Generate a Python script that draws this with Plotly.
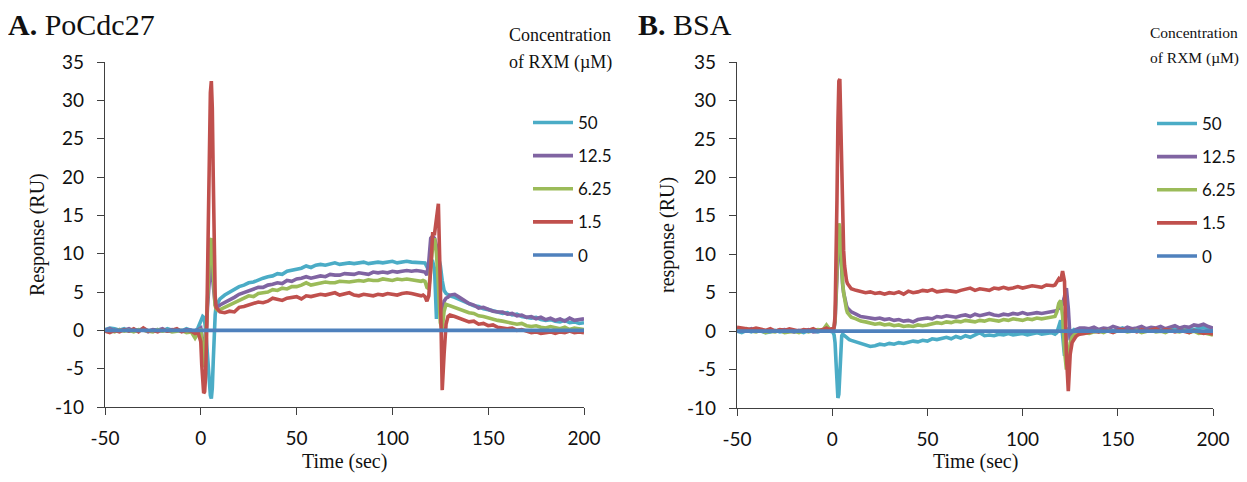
import plotly.graph_objects as go

# ---------------- data ----------------
TIME = [-50, -47.5, -45, -42.5, -40, -37.5, -35, -32.5, -30, -27.5, -25, -22.5, -20, -17.5, -15, -12.5, -10, -7.5, -5,
        -3, -1.5, 0, 0.5, 1, 1.5, 2, 2.5, 3, 3.5, 4, 4.5, 5, 5.5, 6, 6.5, 7, 7.5, 8, 9, 10,
        12.5, 15, 17.5, 20, 22.5, 25, 27.5, 30, 32.5, 35, 37.5, 40, 42.5, 45, 47.5, 50, 52.5, 55, 57.5, 60,
        62.5, 65, 67.5, 70, 72.5, 75, 77.5, 80, 82.5, 85, 87.5, 90, 92.5, 95, 97.5, 100, 102.5, 105, 107.5, 110,
        112.5, 115,
        116, 117, 118, 119, 120, 121, 122, 123, 124, 125, 126, 127, 128, 129, 130,
        132.5, 135, 137.5, 140, 142.5, 145, 147.5, 150, 152.5, 155, 157.5, 160, 162.5, 165, 167.5, 170,
        172.5, 175, 177.5, 180, 182.5, 185, 187.5, 190, 192.5, 195, 197.5, 200]

ZERO_TIME = [-50, 200]
ZERO_VALUES = [0, 0]

SERIES_NAMES = ["50", "12.5", "6.25", "1.5", "0"]
SERIES_COLORS = ["#4BACC6", "#8064A2", "#9BBB59", "#C0504D", "#4F81BD"]

# Panel A: PoCdc27
A_50 = [0.1, 0.3, 0.2, 0.0, 0.2, -0.1, 0.1, 0.0, 0.2, -0.1, 0.0, 0.1, -0.1, 0.2, 0.0, 0.1, -0.1, 0.2, 0.0,
        -0.2, 0.3, 1.3, 1.7, 1.8, 1.7, 1.2, 0.2, -1.5, -3.5, -5.8, -7.5, -8.5, -8.9, -7.5, -4.0, -0.5, 2.0, 3.2, 3.8, 4.1,
        4.6, 5.0, 5.3, 5.7, 5.9, 6.2, 6.3, 6.6, 6.8, 7.0, 7.1, 7.4, 7.3, 7.7, 7.8, 8.0, 8.1, 8.4, 8.2, 8.5,
        8.6, 8.5, 8.7, 8.8, 8.6, 8.7, 8.8, 8.7, 8.8, 8.9, 8.7, 8.8, 8.9, 8.8, 8.9, 9.0, 8.8, 8.9, 9.0, 8.9,
        8.9, 8.8,
        8.9, 8.8, 8.3, 8.5, 9.0, 9.0, 8.0, 1.5, 9.5, 8.5, 6.5, 5.2, 4.8, 4.6, 4.5,
        4.3, 4.0, 3.8, 3.4, 3.2, 3.1, 2.8, 2.7, 2.6, 2.4, 2.2, 2.3, 2.0, 2.1, 1.8, 1.7,
        1.6, 1.7, 1.4, 1.3, 1.4, 1.2, 1.1, 1.3, 1.0, 1.1, 0.9, 1.0]
A_12_5 = [0.0, 0.2, -0.1, 0.1, 0.0, 0.2, -0.1, 0.0, 0.1, -0.2, 0.1, 0.0, 0.2, -0.1, 0.1, 0.0, -0.1, 0.1, 0.0,
          -0.2, 0.1, 0.3, -0.5, -2.0, -3.0, -2.8, -1.5, 0.5, 3.0, 5.5, 7.5, 8.5, 8.5, 7.0, 5.0, 3.8, 3.3, 3.1, 3.1, 3.3,
          3.6, 4.0, 4.3, 4.7, 4.9, 5.2, 5.3, 5.6, 5.6, 5.9, 6.0, 6.2, 6.1, 6.5, 6.4, 6.7, 6.8, 7.0, 6.8, 7.0,
          7.1, 7.0, 7.3, 7.2, 7.2, 7.4, 7.3, 7.3, 7.5, 7.4, 7.3, 7.6, 7.5, 7.6, 7.5, 7.7, 7.6, 7.7, 7.8, 7.7,
          7.8, 7.7,
          7.7, 7.6, 7.2, 9.0, 12.0, 12.3, 12.0, 11.0, 9.5, 3.5, 1.5, 3.8, 4.2, 4.3, 4.6,
          4.7, 4.3, 3.9, 3.5, 3.3, 2.9, 3.0, 2.7, 2.5, 2.4, 2.4, 2.1, 2.2, 1.9, 2.0, 1.7,
          1.8, 1.5, 1.7, 1.4, 1.6, 1.3, 1.5, 1.2, 1.6, 1.3, 1.4, 1.5]
A_6_25 = [-0.1, 0.0, -0.2, 0.1, -0.1, 0.0, -0.2, 0.1, 0.0, -0.1, -0.2, 0.1, -0.1, 0.0, -0.2, -0.1, 0.0, -0.3, -0.2,
          -1.0, -0.3, 0.2, -1.0, -3.5, -4.8, -4.5, -2.5, 1.0, 4.0, 7.0, 10.0, 11.8, 12.0, 10.0, 7.0, 4.5, 3.2, 2.8, 2.6, 2.7,
          3.0, 3.3, 3.6, 3.9, 4.1, 4.5, 4.4, 4.8, 4.9, 5.0, 5.3, 5.2, 5.5, 5.4, 5.7, 5.7, 5.9, 6.2, 5.9, 6.0,
          6.1, 6.3, 6.2, 6.2, 6.4, 6.3, 6.3, 6.4, 6.5, 6.4, 6.6, 6.5, 6.5, 6.7, 6.6, 6.5, 6.7, 6.6, 6.7, 6.6,
          6.5, 6.4,
          6.5, 6.4, 5.6, 5.4, 8.0, 11.0, 12.0, 10.0, 6.0, 1.0, 0.2, 2.5, 3.4, 3.3, 3.2,
          3.0, 2.8, 2.5, 2.3, 2.2, 1.9, 1.8, 1.6, 1.5, 1.3, 1.2, 1.1, 1.0, 0.8, 0.9, 0.6,
          0.5, 0.6, 0.4, 0.3, 0.5, 0.3, 0.2, 0.4, 0.1, 0.3, 0.2, 0.1]
A_1_5 = [-0.1, -0.3, 0.0, -0.2, 0.1, -0.1, 0.2, -0.2, 0.3, -0.1, 0.0, -0.2, 0.1, -0.1, 0.0, 0.2, -0.2, 0.0, -0.1,
         -0.4, -0.2, -1.5, -4.5, -7.5, -8.2, -8.0, -6.0, -1.0, 7.0, 16.0, 25.0, 31.0, 32.5, 29.0, 20.0, 10.0, 4.5, 3.0, 2.6, 2.4,
         2.3, 2.5, 2.4, 3.0, 3.1, 3.3, 3.5, 3.7, 3.6, 3.8, 4.2, 4.0, 3.9, 4.2, 4.3, 4.4, 4.1, 4.5, 4.4, 4.6,
         4.7, 4.6, 4.8, 4.9, 4.6, 4.7, 4.9, 4.6, 4.5, 4.7, 4.6, 4.5, 4.7, 4.6, 4.8, 4.7, 4.6, 4.8, 4.9, 4.8,
         4.7, 4.5,
         4.6, 4.4, 3.8, 4.5, 8.0, 12.6, 12.6, 14.5, 16.5, 6.0, -7.8, -3.0, 0.8, 1.8, 2.0,
         1.8, 1.6, 1.4, 1.1, 1.2, 0.8, 0.9, 0.6, 0.7, 0.4, 0.3, 0.2, 0.3, 0.0, 0.1, -0.1,
         -0.3, -0.2, -0.4, -0.3, -0.2, -0.4, -0.2, -0.3, -0.1, -0.3, -0.2, -0.3]

# Panel B: BSA
B_50 = [0.0, -0.2, 0.1, -0.1, 0.2, 0.0, -0.2, -0.1, 0.1, -0.1, 0.0, 0.1, -0.1, 0.0, -0.2, 0.1, 0.0, -0.1, 0.1,
        0.1, 0.0, -0.1, -0.2, -0.5, -1.5, -4.0, -7.0, -8.7, -8.2, -5.0, -1.5, -0.6, -0.4, -0.5, -0.7, -0.8, -0.9, -1.0, -1.1, -1.2,
        -1.4, -1.6, -1.8, -2.0, -1.9, -1.7, -1.8, -1.6, -1.7, -1.5, -1.6, -1.5, -1.3, -1.4, -1.2, -1.3, -1.0, -1.1, -0.9, -0.8,
        -1.0, -0.7, -0.9, -0.6, -0.8, -0.5, -0.2, -0.6, -0.5, -0.6, -0.4, -0.5, -0.3, -0.5, -0.4, -0.3, -0.5, -0.4, -0.2, -0.4,
        -0.3, -0.2,
        -0.3, -0.4, -0.2, 0.5, 1.4, -0.5, -3.2, -1.0, 0.2, 0.1, 0.0, 0.2, 0.1, 0.0, 0.1,
        0.1, 0.0, 0.2, -0.1, 0.1, 0.3, 0.0, 0.2, 0.4, 0.1, 0.3, 0.2, 0.0, 0.2, 0.1, 0.3,
        0.1, 0.0, 0.2, 0.3, 0.1, 0.2, 0.4, 0.2, 0.3, 0.5, 0.3, 0.1]
B_12_5 = [0.3, 0.2, 0.1, 0.3, 0.0, 0.1, -0.1, 0.2, 0.0, 0.1, 0.2, 0.0, -0.1, 0.1, 0.0, 0.2, -0.1, 0.0, 0.1,
          0.2, 0.1, 0.0, 0.1, 0.4, 1.2, 3.5, 7.0, 10.5, 12.5, 12.0, 9.5, 7.5, 6.0, 5.0, 4.2, 3.7, 3.3, 3.0, 2.7, 2.5,
          2.2, 1.9, 1.8, 1.7, 1.6, 1.7, 1.5, 1.6, 1.4, 1.5, 1.3, 1.4, 1.2, 1.5, 1.6, 1.7, 1.6, 1.9, 1.8, 2.0,
          1.9, 1.8, 2.0, 2.1, 1.9, 2.2, 2.0, 2.1, 2.3, 2.1, 2.0, 2.2, 2.1, 2.3, 2.2, 2.4, 2.2, 2.3, 2.4, 2.3,
          2.4, 2.5,
          2.5, 2.6, 2.7, 3.0, 3.2, 3.5, 4.5, 5.6, 3.0, -1.2, -0.5, 0.0, 0.2, 0.3, 0.4,
          0.4, 0.3, 0.5, 0.2, 0.4, 0.3, 0.6, 0.4, 0.2, 0.5, 0.3, 0.4, 0.6, 0.3, 0.5, 0.4,
          0.6, 0.3, 0.5, 0.7, 0.4, 0.6, 0.5, 0.8, 0.7, 0.9, 0.6, 0.4]
B_6_25 = [0.2, 0.1, 0.3, 0.0, -0.1, 0.1, -0.2, 0.0, -0.1, 0.1, -0.2, -0.1, 0.0, -0.2, 0.1, -0.1, 0.0, 0.2, 0.1,
          0.8, 0.3, 0.1, 0.2, 0.5, 1.5, 4.0, 8.0, 12.0, 14.0, 13.5, 10.5, 8.0, 6.2, 5.0, 4.0, 3.3, 2.8, 2.4, 2.0, 1.8,
          1.6, 1.3, 1.2, 1.1, 0.9, 1.0, 0.8, 0.9, 0.7, 0.8, 0.6, 0.7, 0.6, 0.8, 0.7, 0.8, 0.9, 1.1, 1.0, 1.2,
          1.1, 1.3, 1.2, 1.4, 1.3, 1.2, 1.4, 1.3, 1.5, 1.4, 1.3, 1.5, 1.4, 1.6, 1.5, 1.4, 1.6, 1.5, 1.7, 1.6,
          1.7, 1.8,
          1.8, 1.9, 2.5, 3.6, 4.0, 2.0, -2.5, -5.0, -3.5, -1.5, -0.8, -0.5, -0.4, -0.3, -0.3,
          -0.2, -0.3, -0.1, 0.0, -0.2, 0.1, -0.1, 0.0, 0.1, -0.1, 0.0, 0.1, -0.2, 0.0, 0.1, -0.1,
          0.0, -0.2, 0.1, 0.0, -0.1, 0.1, -0.2, 0.0, -0.3, -0.2, -0.4, -0.5]
B_1_5 = [0.5, 0.4, 0.3, 0.2, 0.4, 0.2, 0.1, 0.3, 0.0, 0.2, 0.1, 0.3, 0.1, 0.0, 0.2, 0.1, 0.3, 0.0, 0.2,
         0.4, 0.2, 0.3, 0.2, 0.5, 2.0, 8.0, 17.0, 27.0, 32.5, 32.8, 27.0, 18.0, 13.0, 10.5, 8.5, 7.3, 6.6, 6.2, 5.8, 5.5,
         5.3, 5.1, 5.0, 5.1, 4.9, 5.0, 4.8, 5.0, 4.9, 5.1, 4.8, 5.2, 5.0, 5.1, 5.3, 5.2, 5.4, 5.1, 5.2, 5.3,
         5.2, 5.1, 5.3, 5.4, 5.6, 5.3, 5.5, 5.4, 5.3, 5.6, 5.5, 5.7, 5.5, 5.6, 5.8, 5.6, 5.7, 5.9, 5.8, 5.7,
         6.0, 5.9,
         5.9, 6.0, 6.4, 6.8, 6.5, 7.8, 6.5, -3.0, -7.8, -3.0, -1.5, -1.0, -0.7, -0.5, -0.4,
         -0.3, -0.2, 0.0, -0.1, 0.1, 0.0, -0.2, 0.1, 0.2, 0.0, 0.1, -0.1, 0.2, 0.0, 0.1, 0.3,
         0.0, 0.2, 0.1, -0.1, 0.1, 0.0, -0.2, 0.1, -0.1, -0.3, -0.2, -0.4]

X_TICKS = [-50, 0, 50, 100, 150, 200]
X_TICK_LABELS = ["-50", "0", "50", "100", "150", "200"]
Y_TICKS = [-10, -5, 0, 5, 10, 15, 20, 25, 30, 35]
Y_TICK_LABELS = ["-10", "-5", "0", "5", "10", "15", "20", "25", "30", "35"]

for nm, s in [("A_50", A_50), ("A_12_5", A_12_5), ("A_6_25", A_6_25), ("A_1_5", A_1_5),
              ("B_50", B_50), ("B_12_5", B_12_5), ("B_6_25", B_6_25), ("B_1_5", B_1_5)]:
    if len(s) != len(TIME):
        raise ValueError(f"{nm} has {len(s)} values, TIME has {len(TIME)}")

# ---------------- figure ----------------
PAGE_W, PAGE_H = 1247, 482
OFF = 8  # default page (body) margin in the browser
W, H = PAGE_W - 2 * OFF, PAGE_H - 2 * OFF  # keep the figure inside the window (no overflow)
SERIF = "Liberation Serif, Times New Roman, serif"
SANS = "Lato, Open Sans, sans-serif"
AX = "#404040"
LW = 3.6

def px(x):
    return (x - OFF) / W

def py(y):
    return 1 - (y - OFF) / H

fig = go.Figure()

panels = [
    ("x", "y", "legend", [A_50, A_12_5, A_6_25, A_1_5]),
    ("x2", "y2", "legend2", [B_50, B_12_5, B_6_25, B_1_5]),
]
for xa, ya, lg, series in panels:
    for i, vals in enumerate(series):
        fig.add_trace(go.Scatter(
            x=TIME, y=vals, mode="lines", name=SERIES_NAMES[i],
            line=dict(color=SERIES_COLORS[i], width=LW),
            xaxis=xa, yaxis=ya, legend=lg, legendgroup=lg + SERIES_NAMES[i],
        ))
    fig.add_trace(go.Scatter(
        x=ZERO_TIME, y=ZERO_VALUES, mode="lines", name=SERIES_NAMES[4],
        line=dict(color=SERIES_COLORS[4], width=LW),
        xaxis=xa, yaxis=ya, legend=lg, legendgroup=lg + SERIES_NAMES[4],
    ))

axis_common = dict(
    showline=True, linecolor=AX, linewidth=1.3, ticks="outside", ticklen=7,
    tickcolor=AX, tickwidth=1.3, showgrid=False, zeroline=False, automargin=False,
    tickfont=dict(family=SANS, size=19, color="#111"),
)
xaxis_common = dict(range=[-50, 200], tickvals=X_TICKS, ticktext=X_TICK_LABELS,
                    ticklabelstandoff=7, **axis_common)
yaxis_common = dict(range=[-10, 35], tickvals=Y_TICKS, ticktext=Y_TICK_LABELS,
                    ticklabelstandoff=9, **axis_common)

legend_common = dict(
    xanchor="left", yanchor="top", traceorder="grouped", tracegroupgap=8,
    itemwidth=40, font=dict(family=SANS, size=17, color="#111"),
    bgcolor="rgba(0,0,0,0)", borderwidth=0,
)

fig.update_layout(
    template="none",
    width=W, height=H,
    margin=dict(l=0, r=0, t=0, b=0, pad=0, autoexpand=False),
    paper_bgcolor="white", plot_bgcolor="white",
    xaxis=dict(domain=[px(105), px(584)], anchor="y", **xaxis_common),
    yaxis=dict(domain=[py(407), py(62)], anchor="x", **yaxis_common),
    xaxis2=dict(domain=[px(737), px(1213)], anchor="y2", **xaxis_common),
    yaxis2=dict(domain=[py(408), py(62)], anchor="x2", **yaxis_common),
    legend=dict(x=px(528), y=py(105), **legend_common),
    legend2=dict(x=px(1152), y=py(106), **legend_common),
    showlegend=True,
)

def note(text, x, y, size, xanchor="left", yanchor="middle", angle=0):
    fig.add_annotation(text=text, x=px(x), y=py(y), xref="paper", yref="paper",
                       xanchor=xanchor, yanchor=yanchor, showarrow=False, textangle=angle,
                       borderpad=0,
                       font=dict(family=SERIF, size=size, color="#111"))

# panel titles
note("<b>A.</b> PoCdc27", 7, 25, 30)
note("<b>B.</b> BSA", 637, 25, 30)
# legend titles
note("Concentration", 508, 35, 18)
note("of RXM (µM)", 508, 62, 18)
note("Concentration", 1149, 32, 15.5)
note("of RXM (µM)", 1149, 58, 15.5)
# axis titles
note("Response (RU)", 38, 235, 20, xanchor="center", angle=-90)
note("response (RU)", 668, 235, 20, xanchor="center", angle=-90)
note("Time (sec)", 344, 473.5, 20, xanchor="center", yanchor="bottom")
note("Time (sec)", 975, 473.5, 20, xanchor="center", yanchor="bottom")

fig.write_html("out.html")
